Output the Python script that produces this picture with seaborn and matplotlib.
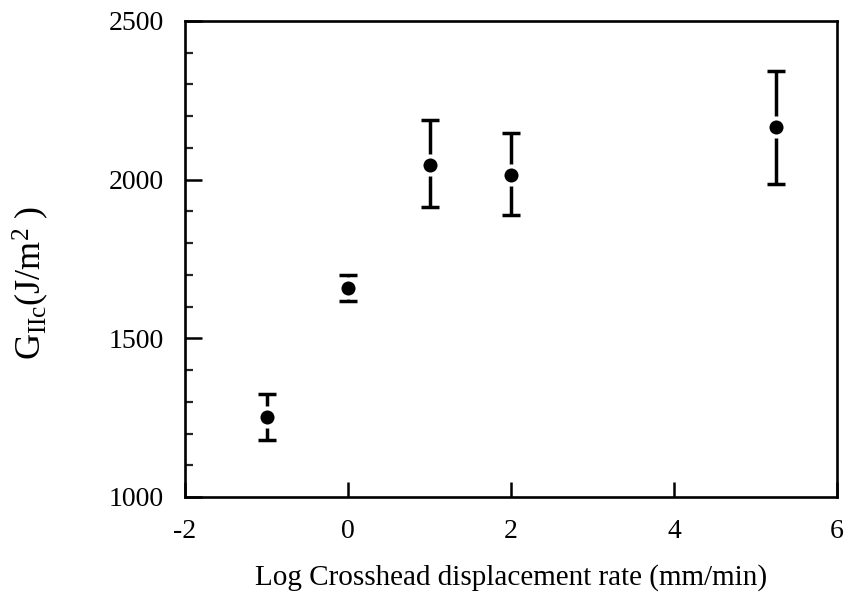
import matplotlib
matplotlib.use("Agg")
import matplotlib.pyplot as plt
import seaborn as sns
import numpy as np
import pandas as pd
from matplotlib.ticker import MultipleLocator

# Data
log_rate = [-1.0, 0.0, 1.0, 2.0, 5.25]
g_iic = [1252, 1660, 2047, 2016, 2167]
err_low = [1179, 1619, 1915, 1890, 1987]
err_high = [1324, 1701, 2189, 2148, 2343]
x_ticks = [-2, 0, 2, 4, 6]
y_ticks = [1000, 1500, 2000, 2500]

sns.set_theme(style="ticks")
plt.rcParams['font.family'] = ['Liberation Serif', 'DejaVu Serif']
plt.rcParams['mathtext.fontset'] = 'custom'
plt.rcParams['mathtext.rm'] = 'Liberation Serif'
plt.rcParams['mathtext.it'] = 'Liberation Serif:italic'

df = pd.DataFrame({"x": log_rate, "y": g_iic, "lo": err_low, "hi": err_high})

fig = plt.figure(figsize=(8.47, 5.98), dpi=100)
ax = fig.add_axes([185/847, 1 - 497/598, (837-185)/847, (497-21)/598])

yerr = np.array([df["y"] - df["lo"], df["hi"] - df["y"]])
ax.errorbar(df["x"], df["y"], yerr=yerr, fmt="none", ecolor="black",
            elinewidth=2.5, capsize=6.5, capthick=2.5, zorder=2)
sns.scatterplot(data=df, x="x", y="y", ax=ax, color="black", s=170,
                edgecolor="white", linewidth=2.9, zorder=3, legend=False)

ax.set_xlim(-2, 6)
ax.set_ylim(1000, 2500)
ax.set_xticks(x_ticks)
ax.set_yticks(y_ticks)
ax.set_xticklabels([str(t) for t in x_ticks])
ax.set_yticklabels([str(t) for t in y_ticks])
ax.yaxis.set_minor_locator(MultipleLocator(100))

ax.tick_params(axis="both", which="major", direction="in", labelsize=20,
               width=1.8, color="black", labelcolor="black")
ax.tick_params(axis="y", which="major", length=12, pad=15)
ax.tick_params(axis="x", which="major", length=11, pad=16)
ax.tick_params(axis="y", which="minor", direction="in", length=6, width=1.6)
ax.tick_params(top=False, right=False, which="both")

for sp in ax.spines.values():
    sp.set_visible(True)
    sp.set_linewidth(1.9)
    sp.set_color("black")

ax.set_xlabel("Log Crosshead displacement rate (mm/min)", fontsize=21,
              color="black", labelpad=14)
ax.set_ylabel(r"G$_{\rm IIc}$(J/m$^{\rm 2}$ )", fontsize=26, color="black")
ax.yaxis.set_label_coords(-0.205, 0.45)
ax.grid(False)

fig.savefig("out.png", dpi=100, facecolor="white")
